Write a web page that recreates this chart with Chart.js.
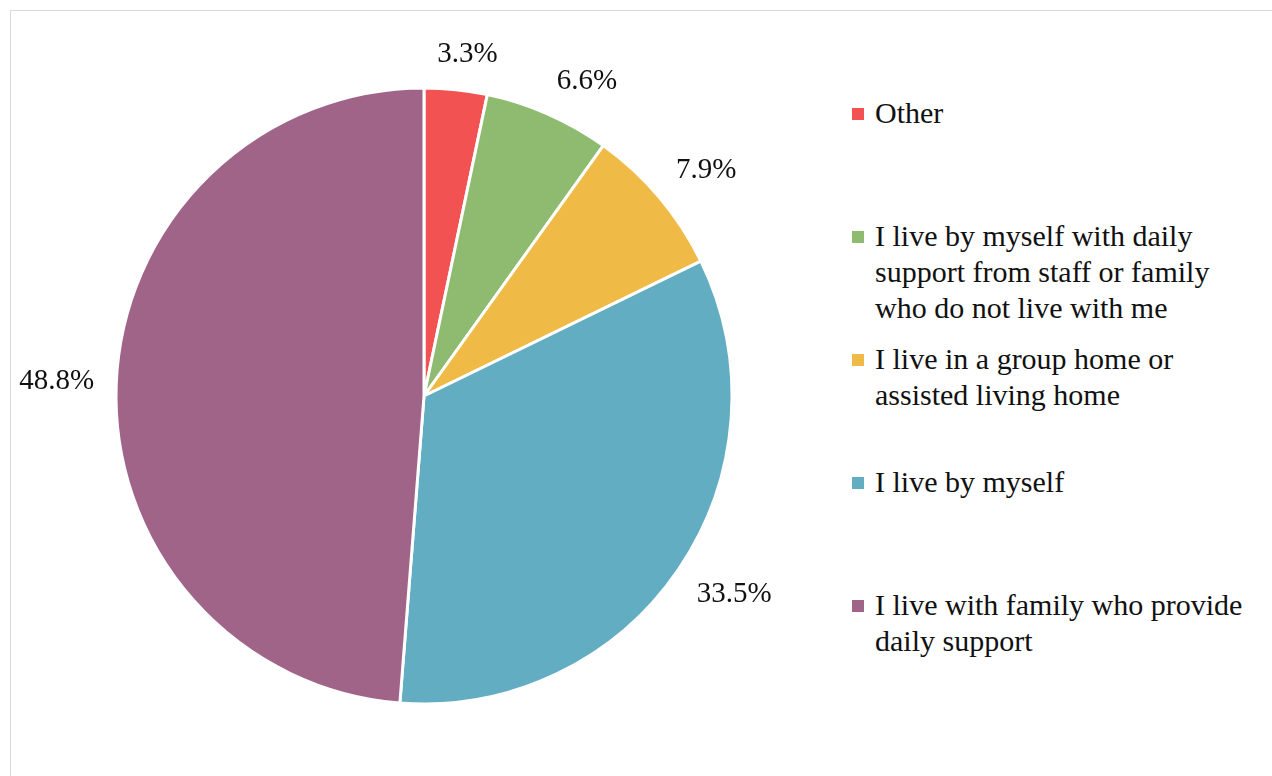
<!DOCTYPE html>
<html lang="en">
<head>
  <meta charset="UTF-8"/>
  <title>Living situation</title>
  <style>
    html, body { margin: 0; padding: 0; background: #fff; overflow: hidden; }
    body { width: 1272px; height: 776px; position: relative; font-family: "Liberation Serif", "Times New Roman", serif; color: #111; }
    #frame { position: absolute; left: 10px; top: 10px; width: 1300px; height: 800px; border: 1px solid #d9d9d9; box-sizing: border-box; }
    #pieWrap { position: absolute; left: 0; top: 0; width: 848px; height: 776px; }
    #legend { position: absolute; left: 852px; top: 95px; margin: 0; padding: 0; list-style: none; }
    #legend li { position: relative; height: 123px; padding-left: 23px; font-size: 30px; line-height: 36px; white-space: nowrap; }
    #legend li span.box { position: absolute; left: 0; top: 13px; width: 12px; height: 12px; }
  </style>
</head>
<body>
  <div id="frame"></div>
  <div id="pieWrap"><canvas id="pie"></canvas></div>
  <ul id="legend"></ul>
  <script src="https://cdn.jsdelivr.net/npm/chart.js@4.4.1/dist/chart.umd.min.js"></script>
  <script>
    // legend text, one entry per wrapped line
    const categories = [
      ['Other'],
      ['I live by myself with daily', 'support from staff or family', 'who do not live with me'],
      ['I live in a group home or', 'assisted living home'],
      ['I live by myself'],
      ['I live with family who provide', 'daily support']
    ];
    const shares = [3.3, 6.6, 7.9, 33.5, 48.8];
    const colors = ['#f25252', '#8ebb70', '#efba45', '#62adc1', '#a06488'];

    // percentage labels just outside each slice
    const outsideLabels = {
      id: 'outsideLabels',
      afterDatasetsDraw(chart) {
        const ctx = chart.ctx;
        const meta = chart.getDatasetMeta(0);
        ctx.save();
        ctx.font = '29px "Liberation Serif", "Times New Roman", serif';
        ctx.fillStyle = '#111';
        ctx.textAlign = 'center';
        ctx.textBaseline = 'middle';
        const clamp = v => Math.max(-1, Math.min(1, v));
        meta.data.forEach((arc, i) => {
          const { x, y, startAngle, endAngle, outerRadius } = arc.getProps(['x', 'y', 'startAngle', 'endAngle', 'outerRadius'], true);
          const mid = (startAngle + endAngle) / 2;
          const dx = Math.cos(mid), dy = Math.sin(mid);
          const txt = shares[i].toFixed(1) + '%';
          const w = ctx.measureText(txt).width, h = 26;
          const r = outerRadius + 22;
          const cx = x + dx * r + clamp(dx * 3) * w / 2;
          const cy = y + dy * r + clamp(dy * 3) * h / 2;
          ctx.fillText(txt, cx, cy);
        });
        ctx.restore();
      }
    };

    const chart = new Chart(document.getElementById('pie'), {
      type: 'pie',
      data: {
        labels: categories,
        datasets: [{
          data: shares,
          backgroundColor: colors,
          borderColor: '#ffffff',
          borderWidth: 3,
          radius: 308
        }]
      },
      options: {
        responsive: true,
        maintainAspectRatio: false,
        animation: false,
        layout: { padding: { top: 16 } },
        plugins: { legend: { display: false }, tooltip: { enabled: false } }
      },
      plugins: [outsideLabels]
    });

    // legend built from the chart's own labels and colours
    const legend = document.getElementById('legend');
    chart.data.labels.forEach((lines, i) => {
      const li = document.createElement('li');
      const box = document.createElement('span');
      box.className = 'box';
      box.style.background = chart.data.datasets[0].backgroundColor[i];
      li.appendChild(box);
      lines.forEach((line, j) => {
        if (j) li.appendChild(document.createElement('br'));
        li.appendChild(document.createTextNode(line));
      });
      legend.appendChild(li);
    });
  </script>
</body>
</html>
